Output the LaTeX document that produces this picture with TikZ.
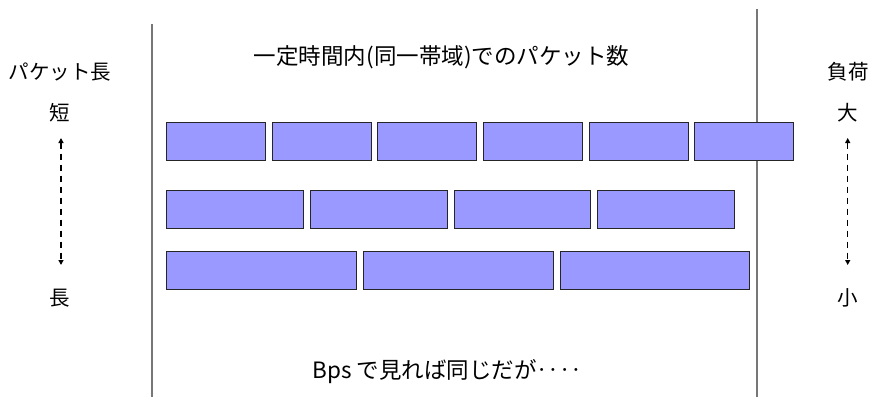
\documentclass[tikz,border=0pt]{standalone}
\usepackage{fontspec}
\setmainfont{Noto Sans CJK JP}
\usetikzlibrary{arrows.meta}
\definecolor{pkt}{HTML}{9999FF}
\definecolor{sep}{HTML}{777777}
\tikzset{
  pktbox/.style={draw=black!85, fill=pkt, line width=0.9pt},
  sepline/.style={draw=sep, line width=1.8pt},
  lbl/.style={font=\fontsize{20.5}{22}\selectfont, inner sep=0pt, anchor=center},
  biglbl/.style={font=\fontsize{22.5}{24}\selectfont, inner sep=0pt, anchor=center},
  darr/.style={dashed, dash pattern=on 6.5pt off 4.5pt, line width=1.5pt, {Triangle[length=5pt,width=5pt]}-{Triangle[length=5pt,width=5pt]}}
}
\begin{document}
\begin{tikzpicture}[x=1pt,y=-1pt]
\useasboundingbox (0,0) rectangle (869,397);
% separators
\coordinate (l1) at (151.7,24);
\coordinate (l2) at (151.7,397);
\coordinate (r1) at (756.7,9);
\coordinate (r2) at (756.7,397);
\draw[sepline] (l1) -- (l2);
\draw[sepline] (r1) -- (r2);
% row 1
\foreach \i in {0,...,5}{
  \path[pktbox] ({166.7+105.6*\i},122.5) rectangle ++(99,38);
}
% row 2
\foreach \i in {0,...,3}{
  \path[pktbox] ({166.7+143.7*\i},190.3) rectangle ++(136.7,38);
}
% row 3
\foreach \i in {0,...,2}{
  \path[pktbox] ({166.7+196.7*\i},251) rectangle ++(189.7,38);
}
% labels
\node[lbl] (plen) at (60,72) {パケット長};
\node[lbl] (short) at (60,113) {短};
\node[lbl] (long) at (60,298) {長};
\node[lbl] (load) at (848,72) {負荷};
\node[lbl] (big) at (848,113) {大};
\node[lbl] (small) at (848,298) {小};
\node[biglbl] (title) at (441.5,57) {一定時間内(同一帯域)でのパケット数};
\node[biglbl] (bottom) at (447,372) {Bps で見れば同じだが‥‥};
\coordinate (la) at (61,138);
\coordinate (lb) at (61,265);
\coordinate (ra) at (847.7,138);
\coordinate (rb) at (847.7,265);
\draw[darr] (la) -- (lb);
\draw[darr] (ra) -- (rb);
\end{tikzpicture}
\end{document}
